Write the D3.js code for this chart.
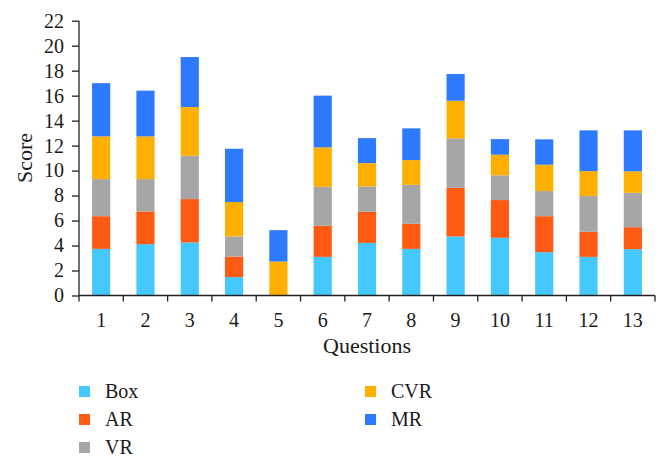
<!DOCTYPE html>
<html><head><meta charset="utf-8">
<script src="https://cdn.jsdelivr.net/npm/d3@7"></script>
<style>body{margin:0;background:#fff}svg{display:block}</style>
</head><body>
<svg id="c" width="670" height="467"></svg>
<script>
const categories = ["1","2","3","4","5","6","7","8","9","10","11","12","13"];
const seriesNames = ["Box","AR","VR","CVR","MR"];
const Box = [3.73,4.11,4.25,1.47,0,3.09,4.21,3.73,4.73,4.62,3.47,3.09,3.71];
const AR  = [2.62,2.62,3.47,1.65,0,2.49,2.49,2.01,3.89,3.02,2.88,2.01,1.76];
const VR  = [2.97,2.59,3.47,1.61,0,3.12,2.03,3.12,3.96,1.98,2.01,2.86,2.75];
const CVR = [3.42,3.42,3.90,2.75,2.72,3.16,1.87,1.98,3.01,1.65,2.11,2.00,1.72];
const MR  = [4.26,3.66,4.00,4.27,2.51,4.14,2.00,2.54,2.14,1.25,2.03,3.26,3.28];
const yTicks = [0,2,4,6,8,10,12,14,16,18,20,22];
const colors = ["#44c8ff","#ff5a14","#a6a6a6","#ffaf00","#2d79ff"];

(function(){
const FONT = '"Liberation Serif", "Times New Roman", serif';
const svg = d3.select("#c");
const mLeft = 79, mRight = 655, mTop = 20.7, mBottom = 295.5;
const x = d3.scaleBand().domain(categories).range([mLeft, mRight]).paddingInner(0.59).paddingOuter(0.295);
const y = d3.scaleLinear().domain([0, 22]).range([mBottom, mTop]);

const table = categories.map((c, i) => ({cat: c, Box: Box[i], AR: AR[i], VR: VR[i], CVR: CVR[i], MR: MR[i]}));
const stack = d3.stack().keys(seriesNames)(table);

svg.append("g").selectAll("g").data(stack).join("g")
  .attr("fill", (d, i) => colors[i])
  .selectAll("rect").data(d => d).join("rect")
  .attr("x", d => x(d.data.cat))
  .attr("width", x.bandwidth())
  .attr("y", d => y(d[1]))
  .attr("height", d => y(d[0]) - y(d[1]));

const ya = svg.append("g").attr("transform", `translate(${mLeft},0)`)
  .call(d3.axisLeft(y).tickValues(yTicks).tickSize(7).tickPadding(8));
ya.attr("font-family", null);
ya.select(".domain").attr("stroke", "#222").attr("stroke-width", 1.3).attr("d", `M0,${mBottom}V${mTop}`);
ya.selectAll(".tick line").attr("stroke", "#222").attr("stroke-width", 1.3);
ya.selectAll(".tick text").style("font-size", "20px").style("font-family", FONT).attr("fill", "#1a1a1a");

const xa = svg.append("g").attr("transform", `translate(0,${mBottom})`);
xa.append("line").attr("x1", mLeft).attr("x2", mRight).attr("stroke", "#222").attr("stroke-width", 1.3);
const bounds = d3.range(categories.length + 1).map(i => mLeft + i * (mRight - mLeft) / categories.length);
xa.selectAll("line.tk").data(bounds).join("line").attr("class", "tk")
  .attr("x1", d => d).attr("x2", d => d).attr("y1", 0).attr("y2", 6)
  .attr("stroke", "#222").attr("stroke-width", 1.3);
xa.selectAll("text").data(categories).join("text")
  .attr("x", d => x(d) + x.bandwidth() / 2).attr("y", 31)
  .attr("text-anchor", "middle").attr("fill", "#1a1a1a")
  .style("font-family", FONT).style("font-size", "20px").text(d => d);

svg.append("text").attr("x", 367).attr("y", 353).attr("fill", "#1a1a1a")
  .attr("text-anchor", "middle").style("font-family", FONT).style("font-size", "22px").text("Questions");
svg.append("text").attr("transform", `translate(32,158) rotate(-90)`).attr("fill", "#1a1a1a")
  .attr("text-anchor", "middle").style("font-family", FONT).style("font-size", "22px").text("Score");

const legPos = [[79,391.5],[79,419.5],[79,447.5],[365,391.5],[365,419.5]];
const lg = svg.append("g").selectAll("g").data(seriesNames).join("g")
  .attr("transform", (d, i) => `translate(${legPos[i][0]},${legPos[i][1]})`);
lg.append("rect").attr("x", 0).attr("y", -5.5).attr("width", 11).attr("height", 11).attr("fill", (d, i) => colors[i]);
lg.append("text").attr("x", 26).attr("y", 6).attr("fill", "#1a1a1a")
  .style("font-family", FONT).style("font-size", "20px").text(d => d);
})();
</script>
</body></html>
